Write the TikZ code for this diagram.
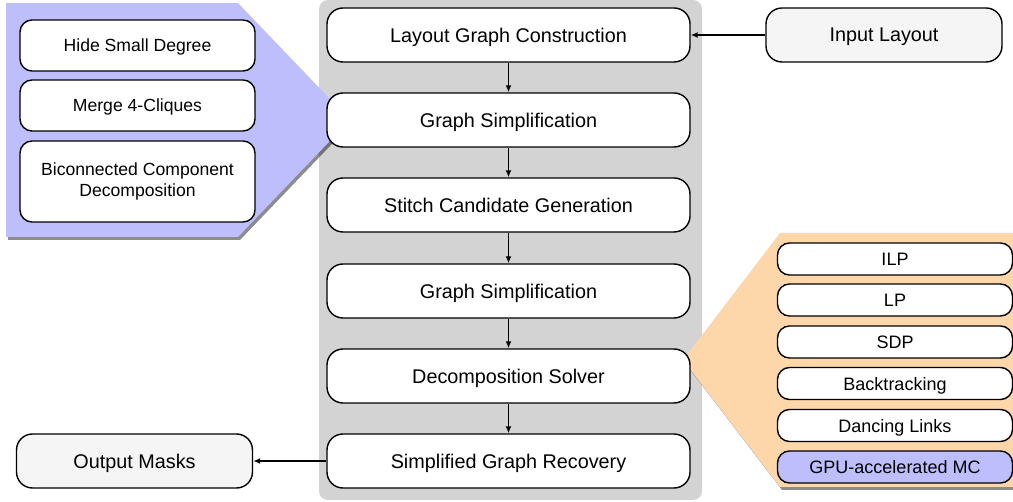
\documentclass[tikz,border=0pt]{standalone}
\usepackage{fontspec}
\setmainfont{Liberation Sans}
\usetikzlibrary{arrows.meta,shadows}
\definecolor{panelgray}{RGB}{211,211,211}
\definecolor{calloutpurple}{RGB}{190,190,253}
\definecolor{calloutorange}{RGB}{253,215,170}
\definecolor{iofill}{RGB}{245,245,245}
\tikzset{
  mainbox/.style={draw=black,line width=1.4pt,fill=white,rounded corners=16pt,
    minimum width=363pt,minimum height=54pt,inner sep=0pt,text depth=0pt,font=\fontsize{19.8}{22}\selectfont},
  iobox/.style={mainbox,fill=iofill,minimum width=236pt},
  leftbox/.style={draw=black,line width=1.4pt,fill=white,rounded corners=12pt,
    minimum width=235pt,inner sep=0pt,align=center,font=\fontsize{17.6}{22}\selectfont},
  rightbox/.style={draw=black,line width=1.4pt,fill=white,rounded corners=12pt,
    minimum width=235pt,minimum height=32pt,inner sep=0pt,text depth=0pt,font=\fontsize{18}{22}\selectfont},
  flow/.style={line width=1.4pt,-{Latex[length=7pt,width=6pt]}},
  callshadow/.style={drop shadow={shadow xshift=2pt,shadow yshift=-3pt,opacity=0.45,fill=black}}
}
\begin{document}
\begin{tikzpicture}[x=1pt,y=-1pt]
\useasboundingbox (0,0) rectangle (1013,502);
% gray panel
\fill[panelgray,rounded corners=9pt] (319,0) rectangle (702,500);
% callouts
\fill[calloutpurple,callshadow] (6,3) -- (238,3) -- (350,120) -- (238,237) -- (6,237) -- cycle;
\fill[calloutorange,callshadow] (1013,233) -- (780,233) -- (683,360) -- (780,487) -- (1013,487) -- cycle;
% main boxes
\node[mainbox] (b1) at (508.5,35) {Layout Graph Construction};
\node[mainbox] (b2) at (508.5,120) {Graph Simplification};
\node[mainbox] (b3) at (508.5,205) {Stitch Candidate Generation};
\node[mainbox] (b4) at (508.5,291) {Graph Simplification};
\node[mainbox] (b5) at (508.5,376) {Decomposition Solver};
\node[mainbox] (b6) at (508.5,461) {Simplified Graph Recovery};
% io boxes
\node[iobox] (in) at (884,35) {Input Layout};
\node[iobox] (out) at (134.5,461) {Output Masks};
% left boxes
\node[leftbox,minimum height=51pt,text depth=0pt] (l1) at (137.5,45.5) {Hide Small Degree};
\node[leftbox,minimum height=51pt,text depth=0pt] (l2) at (137.5,105.5) {Merge 4-Cliques};
\node[leftbox,minimum height=81pt] (l3) at (137.5,181.5) {Biconnected Component\\[-1pt]Decomposition};
% right boxes
\node[rightbox] (r1) at (895,259) {ILP};
\node[rightbox] (r2) at (895,300) {LP};
\node[rightbox] (r3) at (895,342) {SDP};
\node[rightbox] (r4) at (895,383.5) {Backtracking};
\node[rightbox] (r5) at (895,425.5) {Dancing Links};
\node[rightbox,fill=calloutpurple] (r6) at (895,467) {GPU-accelerated MC};
% arrows
\draw[flow] (b1) -- (b2);
\draw[flow] (b2) -- (b3);
\draw[flow] (b3) -- (b4);
\draw[flow] (b4) -- (b5);
\draw[flow] (b5) -- (b6);
\draw[flow] (in) -- (b1);
\draw[flow] (b6) -- (out);
\end{tikzpicture}
\end{document}
